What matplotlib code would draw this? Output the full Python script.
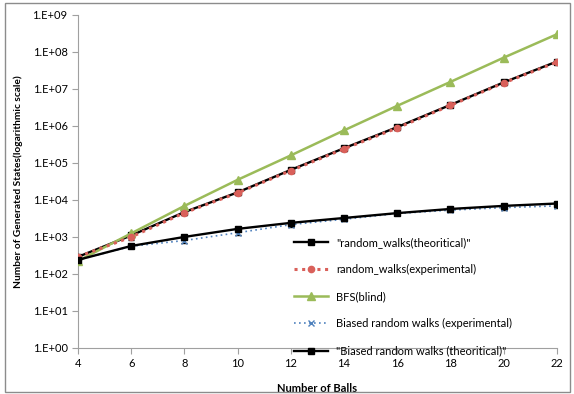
import math
import matplotlib
matplotlib.use("Agg")
import matplotlib.pyplot as plt
from matplotlib.patches import Rectangle
from matplotlib.ticker import FixedLocator, FuncFormatter

plt.rcParams['font.family'] = ['Lato', 'DejaVu Sans']

balls = [4, 6, 8, 10, 12, 14, 16, 18, 20, 22]

rw_theory = [290, 1100, 4700, 16000, 65000, 250000, 930000, 3700000, 15000000, 55000000]
rw_exp = [290, 1000, 4500, 15500, 62000, 240000, 880000, 3600000, 14500000, 53000000]
rw_exp_err = [30, 150, 500, 1800, 7000, 28000, 100000, 400000, 2000000, 7000000]
bfs = [224, 1250, 6900, 35000, 160000, 760000, 3500000, 15500000, 70000000, 300000000]
brw_exp = [240, 560, 800, 1300, 2150, 3000, 4300, 5300, 6200, 6900]
brw_exp_err = [20, 60, 100, 150, 250, 350, 500, 600, 700, 1000]
brw_theory = [240, 570, 1000, 1650, 2400, 3250, 4400, 5700, 6900, 8000]

legend_labels = ['"random_walks(theoritical)"', 'random_walks(experimental)', 'BFS(blind)',
                 'Biased random walks (experimental)', '"Biased random walks (theoritical)"']

fig = plt.figure(figsize=(5.74, 3.94), dpi=100)
ax = fig.add_axes([0.136, 0.117, 0.834, 0.845])

l1, = ax.plot(balls, rw_theory, color='black', lw=1.7, marker='s', ms=5, zorder=3)
ax.errorbar(balls, rw_exp, yerr=rw_exp_err, fmt='none', ecolor='black', elinewidth=0.8, capsize=2, zorder=3)
l2, = ax.plot(balls, rw_exp, color='#d9605a', ls=(0, (1, 1.5)), lw=2.2, marker='o', ms=4.5, zorder=4)
l3, = ax.plot(balls, bfs, color='#9bbb59', lw=1.8, marker='^', ms=6, zorder=3)
ax.errorbar(balls, brw_exp, yerr=brw_exp_err, fmt='none', ecolor='black', elinewidth=0.8, capsize=2, zorder=3)
l4, = ax.plot(balls, brw_exp, color='#4f81bd', ls=(0, (1, 2)), lw=1.2, marker='x', ms=5, mew=1, zorder=3)
l5, = ax.plot(balls, brw_theory, color='black', lw=1.7, marker='s', ms=5, zorder=4)

ax.set_yscale('log')
ax.set_ylim(1, 1e9)
ax.set_xlim(4, 22)
ax.set_xticks(balls)
ax.yaxis.set_major_locator(FixedLocator([10 ** i for i in range(10)]))
ax.yaxis.set_minor_locator(FixedLocator([]))
ax.yaxis.set_major_formatter(FuncFormatter(lambda v, p: '1.E+%02d' % round(math.log10(v))))

for side in ['top', 'right']:
    ax.spines[side].set_visible(False)
for side in ['left', 'bottom']:
    ax.spines[side].set_color('#a0a0a0')
ax.tick_params(axis='both', colors='#a0a0a0', labelcolor='black', labelsize=8, length=4, direction='out')

ax.set_xlabel('Number of Balls', fontsize=8, fontweight='bold', labelpad=10)
ax.set_ylabel('Number of Generated States(logarithmic scale)', fontsize=7.3, fontweight='bold', labelpad=7)

ax.legend([l1, l2, l3, l4, l5], legend_labels, loc='upper left', bbox_to_anchor=(0.44, 0.35),
          frameon=False, fontsize=8, handlelength=3, labelspacing=1.45, borderpad=0, numpoints=1)

fig.patches.append(Rectangle((0.008, 0.005), 0.985, 0.988, transform=fig.transFigure,
                             fill=False, edgecolor='#8c8c8c', lw=1))

fig.savefig('out.png', dpi=100)
